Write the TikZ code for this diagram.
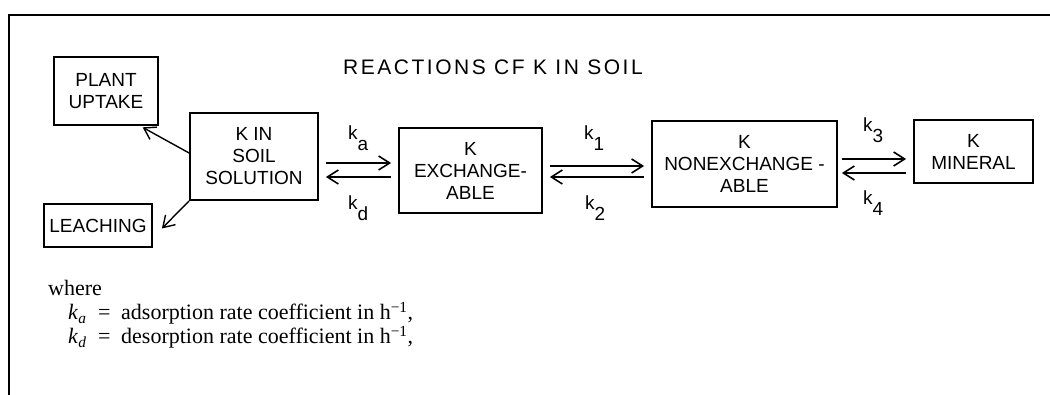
\documentclass[tikz,border=0pt]{standalone}
\usepackage{fontspec}
\setmainfont{Liberation Serif}
\newfontfamily\lett{Liberation Sans}
\usetikzlibrary{arrows.meta}
\newcommand\ksub[1]{k\raisebox{-11pt}{#1}}
\begin{document}
\begin{tikzpicture}[x=1pt,y=-1pt,
  box/.style={draw, line width=1.8pt, inner sep=0pt, align=center,
    font=\lett\fontsize{19}{22}\selectfont},
  arr/.style={line width=1.6pt, shorten <=7pt, shorten >=7pt,
    -{Straight Barb[length=11pt,width=14pt,line width=1.6pt]}},
  darr/.style={line width=1.4pt,
    -{Straight Barb[length=11pt,width=14pt,line width=1.4pt]}},
  klab/.style={inner sep=0pt, anchor=base west, font=\lett\fontsize{19}{22}\selectfont},
  legend/.style={inner sep=0pt, anchor=base west, font=\fontsize{22}{24}\selectfont},
]
\useasboundingbox (0,0) rectangle (1050,395);
\draw[line width=2pt] (1050,15) -- (9,15) -- (9,395);

\node[inner sep=0pt, anchor=base, font=\lett\fontsize{21}{24}\selectfont\addfontfeature{LetterSpace=12}] (title) at (493,75) {REACTIONS CF K IN SOIL};

\node[box, minimum width=104pt, minimum height=68pt] (plant) at (106,91) {PLANT\\UPTAKE};
\node[box, minimum width=108pt, minimum height=43pt] (leach) at (98,225.5) {LEACHING};
\node[box, minimum width=128pt, minimum height=87pt] (sol) at (254,156.5) {K IN\\SOIL\\SOLUTION};
\node[box, minimum width=143pt, minimum height=85pt] (exch) at (470.5,170.5) {K\\EXCHANGE-\\ABLE};
\node[box, minimum width=185pt, minimum height=86pt] (nonex) at (744.5,164) {K\\NONEXCHANGE -\\ABLE};
\node[box, minimum width=119pt, minimum height=63pt] (mineral) at (973.5,151.5) {K\\MINERAL};

\draw[darr, shorten >=3pt] (sol.west |- 0,153) -- (plant.south -| 140,0);
\draw[darr] (sol.south west) -- ([shift={(9,3)}]leach.east);

\draw[arr] (sol.east |- 0,163) -- (exch.west |- 0,163);
\draw[arr] (exch.west |- 0,177) -- (sol.east |- 0,177);
\draw[arr] (exch.east |- 0,166) -- (nonex.west |- 0,166);
\draw[arr] (nonex.west |- 0,177) -- (exch.east |- 0,177);
\draw[arr, shorten <=4pt] (nonex.east |- 0,159) -- (mineral.west |- 0,159);
\draw[arr, shorten >=4pt] (mineral.west |- 0,173) -- (nonex.east |- 0,173);

\node[klab] (ka) at (348,140) {\ksub{a}};
\node[klab] (kd) at (348,210) {\ksub{d}};
\node[klab] (k1) at (584,140) {\ksub{1}};
\node[klab] (k2) at (585,210) {\ksub{2}};
\node[klab] (k3) at (863,132) {\ksub{3}};
\node[klab] (k4) at (863,205) {\ksub{4}};

\node[legend] (where) at (48,296) {where};
\node[legend] (lka) at (68,320) {\textit{k}\textsubscript{\textit{a}}};
\node[legend] (eqa) at (98,320) {=};
\node[legend] (ta) at (121,320) {adsorption rate coefficient in h\textsuperscript{\char"2212 1},};
\node[legend] (lkd) at (68,344) {\textit{k}\textsubscript{\textit{d}}};
\node[legend] (eqd) at (98,344) {=};
\node[legend] (td) at (121,344) {desorption rate coefficient in h\textsuperscript{\char"2212 1},};
\end{tikzpicture}
\end{document}
